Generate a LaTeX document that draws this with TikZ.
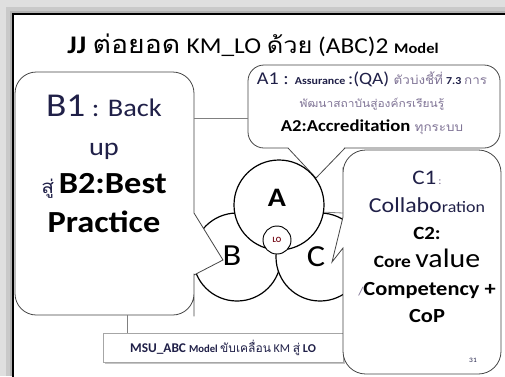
\documentclass[tikz,border=0pt]{standalone}
\usepackage{fontspec}
\setmainfont{Carlito}
\newfontfamily\thaifont[Script=Thai]{Loma}
\usepackage{tikz}
\usetikzlibrary{shadows}

\definecolor{navy}{RGB}{32,32,72}
\definecolor{lilac}{RGB}{128,116,150}
\definecolor{wine}{RGB}{120,16,28}
\definecolor{edge}{RGB}{70,70,70}
\newcommand{\tht}[1]{{\thaifont #1}}
\newcommand{\fsz}[2]{\fontsize{#1}{#2}\selectfont}

\begin{document}
\begin{tikzpicture}[x=0.75pt,y=0.75pt,yscale=-1,xscale=1,
  callout/.style={draw=edge, fill=white, line width=0.6pt},
  petal/.style={circle, draw=black, fill=white, line width=0.9pt, inner sep=0pt},
  link/.style={draw=gray, line width=0.6pt},
  txt/.style={align=center, inner sep=0pt, xscale=1.12}]
\useasboundingbox (0,0) rectangle (505,376);

%Shape: shadow round the slide
\fill[gray!25] (0,0) rectangle (505,376);
\fill[gray!42] (6,7) rectangle (505,376);
\fill[gray!60] (10,11) rectangle (505,376);
%Shape: Rectangle (slide)
\draw[fill=white, line width=1.1pt] (13,14) rectangle (520,390);

% Text Node
\node[txt] (title) at (253,45) {\fsz{19}{22}\bfseries JJ \mdseries\tht{ต่อยอด} \fsz{17}{22}KM\_LO \tht{ด้วย} (ABC)2 \bfseries\fsz{11}{22}Model};

%Shape: Circle
\node[petal, minimum size=66pt] (B) at (237,257) {};
%Shape: Circle
\node[petal, minimum size=66pt] (C) at (320,257) {};

%Shape: Rectangle (bottom box)
\node[draw=gray!70, fill=white, minimum width=180pt, minimum height=21.75pt, inner sep=0pt,
  drop shadow={shadow xshift=1.5pt, shadow yshift=-1.5pt, opacity=.45}] (msu) at (223,347.5)
  {\color{navy}\fsz{10}{12}\bfseries MSU\_ABC \fsz{8}{12}Model \mdseries\fsz{9}{12}\tht{ขับเคลื่อน} KM \tht{สู่} \bfseries LO};

%Shape: Polygon (callout B)
\draw[callout] (194,150) [rounded corners=16pt] -- (194,72) -- (15,72) -- (15,315) -- (194,315) -- (194,295) [sharp corners] -- (194,275) -- (223,260) -- (194,213) -- cycle;
%Shape: Polygon (callout C)
\draw[callout] (343,190) -- (343,217) -- (332,262) -- (343,248) -- (343,300) [rounded corners=17pt] -- (343,374) -- (501,374) -- (501,150) -- (343,150) -- cycle;
%Shape: Polygon (callout A)
\draw[callout] (400,65) [rounded corners=12pt] -- (500,65) -- (500,148) -- (360,148) [sharp corners] -- (345,148) -- (316,178) -- (288,148) -- (280,148) [rounded corners=12pt] -- (248,148) -- (248,65) -- cycle;

\coordinate (bk-e) at (194,118);
\coordinate (bk-s) at (127,315);
\coordinate (as-w) at (248,118);
\coordinate (cv-w) at (343,213);

%Shape: Circle
\node[petal, minimum size=67.5pt] (A) at (279,205) {};
%Shape: Circle
\node[petal, minimum size=21pt, line width=0.7pt] (LO) at (277,240) {\color{wine}\fsz{6}{6}\bfseries LO};

%Straight Lines
\draw[link] (bk-e) -- (as-w);
%Straight Lines
\draw[link] (bk-s) -- (bk-s |- msu.north);
%Straight Lines
\draw[link] (A.-9) -- (cv-w);

% Text Node
\node[txt] (Albl) at (277,198) {\fsz{20}{20}\bfseries A};
% Text Node
\node[txt] (Blbl) at (232,256) {\fsz{23}{23}B};
% Text Node
\node[txt] (Clbl) at (316,257) {\fsz{23}{23}C};

% Text Node
\node[txt, font=\fsz{10}{29}] (btext) at (104,164) {\color{navy}\fsz{25}{29}B1\fsz{19}{29} : Back\\
  \color{navy}\fsz{19}{29}up\\
  \color{navy}\fsz{14}{29}\tht{สู่} \color{black}\fsz{23}{29}\bfseries B2:Best\\
  \color{black}\fsz{23}{29}\bfseries Practice};
% Text Node
\node[txt, font=\fsz{10}{17.6}] (atext) at (372,103) {\color{navy}\fsz{13.5}{17.6}A1 : \bfseries\fsz{8}{17.6}Assurance \mdseries\fsz{13}{17.6}:(QA) \color{lilac}\fsz{9}{17.6}\tht{ตัวบ่งชี้ที่} \color{navy}\bfseries\fsz{8}{17.6}7.3 \mdseries\color{lilac}\fsz{9}{17.6}\tht{การ}\\
  \color{lilac}\fsz{8}{17.6}\tht{พัฒนาสถาบันสู่องค์กรเรียนรู้}\\
  \color{black}\bfseries\fsz{12.5}{17.6}A2:Accreditation \mdseries\color{lilac}\fsz{9}{17.6}\tht{ทุกระบบ}};
% Text Node
\node[txt, font=\fsz{10}{20.8}] (ctext) at (427,247) {\color{navy}\fsz{15.5}{20.8}C1\color{lilac}\fsz{8}{20.8}\,:\\
  \color{navy}\fsz{16}{20.8}Collabo\fsz{12}{20.8}ration\\
  \color{black}\bfseries\fsz{14}{20.8}C2:\\
  \color{black}\bfseries\fsz{13}{20.8}Core \mdseries\fsz{20}{20.8}value\\
  \color{lilac}\fsz{9}{20.8}/\color{black}\bfseries\fsz{15}{20.8}Competency +\\
  \color{black}\bfseries\fsz{15}{20.8}CoP};
% Text Node
\node[txt] (pg) at (473,360) {\color{navy}\fsz{5}{5}31};
\end{tikzpicture}
\end{document}
